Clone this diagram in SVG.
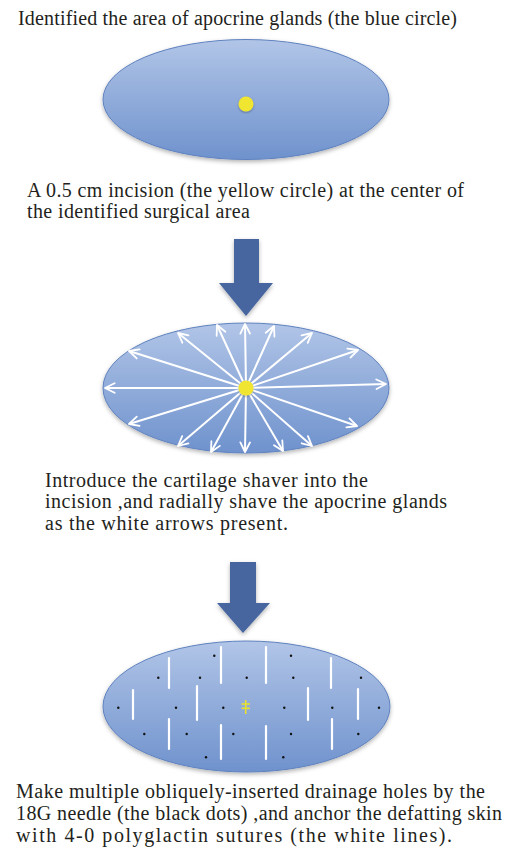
<svg xmlns="http://www.w3.org/2000/svg" width="517" height="855" viewBox="0 0 517 855">
<defs>
<linearGradient id="blueGrad" x1="0" y1="0" x2="0" y2="1">
<stop offset="0" stop-color="#b1c5e7"/>
<stop offset="1" stop-color="#6f92cd"/>
</linearGradient>
<filter id="shadow" x="-20%" y="-20%" width="140%" height="150%">
<feDropShadow dx="0" dy="2" stdDeviation="2" flood-color="#000" flood-opacity="0.3"/>
</filter>
<filter id="dotShadow" x="-50%" y="-50%" width="200%" height="200%">
<feDropShadow dx="0" dy="1" stdDeviation="0.8" flood-color="#000" flood-opacity="0.35"/>
</filter>
<marker id="head" viewBox="0 0 10 10" refX="9" refY="5" markerWidth="6" markerHeight="6" orient="auto" markerUnits="strokeWidth">
<path d="M1,1 L9,5 L1,9" fill="none" stroke="#fff" stroke-width="1.5" stroke-linecap="round" stroke-linejoin="round"/>
</marker>
</defs>
<style>
.lbl{font-family:"Liberation Serif","Times New Roman",serif;font-size:20px;fill:#231f20}
.area{fill:url(#blueGrad);stroke:#5f82bf;stroke-width:1;filter:url(#shadow)}
.dot{fill:#f0e630;filter:url(#dotShadow)}
.big{fill:#46669f;filter:url(#shadow)}
.ray{stroke:#fff;stroke-width:2;marker-end:url(#head)}
.suture{stroke:#fff;stroke-width:2.2;stroke-linecap:round}
.hole{fill:#111}
.cross{stroke:#e8e030;stroke-width:1.6}
</style>

<g id="step1">
<text class="lbl" x="18" y="25" textLength="439" lengthAdjust="spacing">Identified the area of apocrine glands (the blue circle)</text>
<ellipse class="area" cx="246" cy="99.5" rx="143" ry="60"/>
<circle class="dot" cx="246" cy="104" r="7.5"/>
<text class="lbl" x="27" y="197" textLength="437" lengthAdjust="spacing">A 0.5 cm incision (the yellow circle) at the center of</text>
<text class="lbl" x="27" y="218" textLength="223" lengthAdjust="spacing">the identified surgical area</text>
</g>

<g id="step2">
<ellipse class="area" cx="246" cy="388" rx="143" ry="65"/>
<g id="rays">
<line class="ray" x1="246" y1="388" x2="245" y2="324"/>
<line class="ray" x1="246" y1="388" x2="245" y2="452"/>
<line class="ray" x1="246" y1="388" x2="105" y2="388"/>
<line class="ray" x1="246" y1="388" x2="386" y2="384"/>
<line class="ray" x1="246" y1="388" x2="129" y2="351"/>
<line class="ray" x1="246" y1="388" x2="358" y2="350"/>
<line class="ray" x1="246" y1="388" x2="129" y2="424"/>
<line class="ray" x1="246" y1="388" x2="357" y2="426"/>
<line class="ray" x1="246" y1="388" x2="178" y2="333"/>
<line class="ray" x1="246" y1="388" x2="217" y2="325"/>
<line class="ray" x1="246" y1="388" x2="274" y2="326"/>
<line class="ray" x1="246" y1="388" x2="312" y2="333"/>
<line class="ray" x1="246" y1="388" x2="178" y2="446"/>
<line class="ray" x1="246" y1="388" x2="211" y2="452"/>
<line class="ray" x1="246" y1="388" x2="283" y2="451"/>
<line class="ray" x1="246" y1="388" x2="312" y2="446"/>
</g>
<circle class="dot" cx="246" cy="388" r="7.5"/>
<text class="lbl" x="45" y="487" textLength="323" lengthAdjust="spacing">Introduce the cartilage shaver into the</text>
<text class="lbl" x="45" y="508" textLength="402" lengthAdjust="spacing">incision ,and radially shave the apocrine glands</text>
<text class="lbl" x="45" y="530" textLength="243" lengthAdjust="spacing">as the white arrows present.</text>
</g>

<g id="step3">
<ellipse class="area" cx="246.5" cy="706.5" rx="143.5" ry="65.5"/>
<g id="sutures">
<line class="suture" x1="221" y1="647" x2="221" y2="683"/>
<line class="suture" x1="266" y1="647" x2="266" y2="683"/>
<line class="suture" x1="169" y1="658" x2="169" y2="688"/>
<line class="suture" x1="331" y1="658" x2="331" y2="688"/>
<line class="suture" x1="133" y1="690" x2="133" y2="719"/>
<line class="suture" x1="197" y1="686" x2="197" y2="720"/>
<line class="suture" x1="308" y1="688" x2="308" y2="720"/>
<line class="suture" x1="358" y1="689" x2="358" y2="719"/>
<line class="suture" x1="169" y1="719" x2="169" y2="749"/>
<line class="suture" x1="221" y1="725" x2="221" y2="759"/>
<line class="suture" x1="266" y1="726" x2="266" y2="759"/>
<line class="suture" x1="332" y1="719" x2="332" y2="749"/>
</g>
<g id="holes">
<circle class="hole" cx="214.3" cy="655.7" r="1.2"/>
<circle class="hole" cx="291" cy="655.7" r="1.2"/>
<circle class="hole" cx="158.3" cy="677.7" r="1.2"/>
<circle class="hole" cx="200" cy="677.7" r="1.2"/>
<circle class="hole" cx="246.7" cy="677.7" r="1.2"/>
<circle class="hole" cx="293.3" cy="677.7" r="1.2"/>
<circle class="hole" cx="361" cy="677.7" r="1.2"/>
<circle class="hole" cx="118.3" cy="707.7" r="1.2"/>
<circle class="hole" cx="176" cy="707.7" r="1.2"/>
<circle class="hole" cx="223.3" cy="707.7" r="1.2"/>
<circle class="hole" cx="284.3" cy="707.7" r="1.2"/>
<circle class="hole" cx="332.3" cy="707.7" r="1.2"/>
<circle class="hole" cx="379" cy="707.7" r="1.2"/>
<circle class="hole" cx="144.3" cy="734" r="1.2"/>
<circle class="hole" cx="186.7" cy="734" r="1.2"/>
<circle class="hole" cx="233.3" cy="734" r="1.2"/>
<circle class="hole" cx="291" cy="734" r="1.2"/>
<circle class="hole" cx="358.3" cy="734" r="1.2"/>
<circle class="hole" cx="206" cy="757.3" r="1.2"/>
<circle class="hole" cx="283.3" cy="757.3" r="1.2"/>
</g>
<g id="incision-closure">
<line class="cross" x1="245.7" y1="700" x2="245.7" y2="714"/>
<line class="cross" x1="241.5" y1="704" x2="250" y2="704"/>
<line class="cross" x1="241.5" y1="708.3" x2="250" y2="708.3"/>
</g>
<text class="lbl" x="16" y="798" textLength="469" lengthAdjust="spacing">Make multiple obliquely-inserted drainage holes by the</text>
<text class="lbl" x="16" y="820" textLength="486" lengthAdjust="spacing">18G needle (the black dots) ,and anchor the defatting skin</text>
<text class="lbl" x="16" y="842" textLength="436" lengthAdjust="spacing">with 4-0 polyglactin sutures (the white lines).</text>
</g>

<g id="connectors">
<path id="arrow1" class="big" d="M234,239 H259 V283 H273 L246,316 L219,283 H234 Z"/>
<path id="arrow2" class="big" d="M230,562 H256 V603 H270 L243,633 L217,603 H230 Z"/>
</g>
</svg>
